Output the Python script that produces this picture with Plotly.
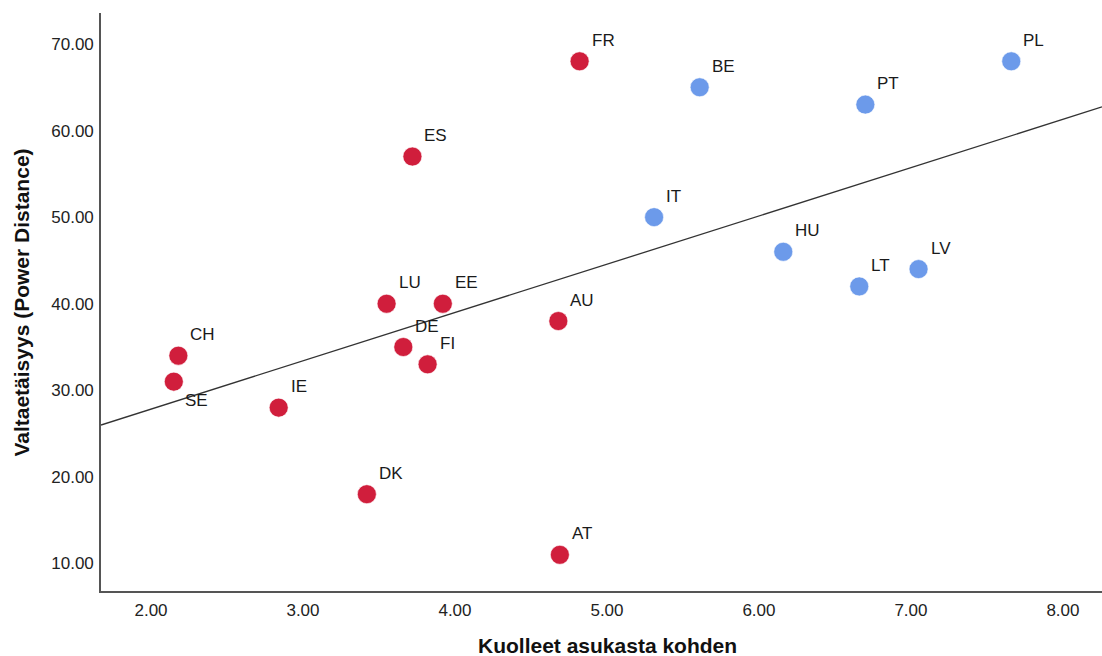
import numpy as np
import plotly.graph_objects as go

# Data
red_codes = ["CH", "SE", "IE", "DK", "LU", "DE", "ES", "FI", "EE", "AU", "AT", "FR"]
red_x = [2.18, 2.15, 2.84, 3.42, 3.55, 3.66, 3.72, 3.82, 3.92, 4.68, 4.69, 4.82]
red_y = [34, 31, 28, 18, 40, 35, 57, 33, 40, 38, 11, 68]

blue_codes = ["IT", "BE", "HU", "LT", "PT", "LV", "PL"]
blue_x = [5.31, 5.61, 6.16, 6.66, 6.70, 7.05, 7.66]
blue_y = [50, 65, 46, 42, 63, 44, 68]

x_ticks = [2, 3, 4, 5, 6, 7, 8]
y_ticks = [10, 20, 30, 40, 50, 60, 70]

x_title = "Kuolleet asukasta kohden"
y_title = "Valtaetäisyys (Power Distance)"

RED = "#D01E3C"
BLUE = "#6C9AEA"
FONT = "Liberation Sans, Arial, Helvetica, sans-serif"

x_range = [1.671, 8.257]
y_range = [6.82, 73.58]

all_x = np.array(red_x + blue_x)
all_y = np.array(red_y + blue_y)
slope, intercept = np.polyfit(all_x, all_y, 1)
line_x = np.array(x_range)
line_y = intercept + slope * line_x

fig = go.Figure()
fig.add_trace(go.Scatter(x=line_x, y=line_y, mode="lines",
                         line=dict(color="#333333", width=1.3),
                         hoverinfo="skip", showlegend=False))
fig.add_trace(go.Scatter(x=red_x, y=red_y, mode="markers",
                         marker=dict(size=19, color=RED, line=dict(color="white", width=0.6)),
                         text=red_codes, showlegend=False, cliponaxis=False))
fig.add_trace(go.Scatter(x=blue_x, y=blue_y, mode="markers",
                         marker=dict(size=19, color=BLUE, line=dict(color="white", width=0.6)),
                         text=blue_codes, showlegend=False, cliponaxis=False))

below = {"SE"}
for codes, xs, ys in [(red_codes, red_x, red_y), (blue_codes, blue_x, blue_y)]:
    for c, xv, yv in zip(codes, xs, ys):
        fig.add_annotation(x=xv, y=yv, text=c, showarrow=False,
                           xanchor="left", yanchor="middle",
                           xshift=9 if c in below else 10,
                           yshift=-19 if c in below else 21,
                           font=dict(family=FONT, size=17, color="#1a1a1a"))

fig.add_annotation(xref="paper", yref="paper", x=0.506, y=-0.095,
                   text="<b>" + x_title + "</b>", showarrow=False,
                   xanchor="center", yanchor="middle",
                   font=dict(family=FONT, size=21, color="#111111"))
fig.add_annotation(xref="paper", yref="paper", x=-0.0789, y=0.499,
                   text="<b>" + y_title + "</b>", showarrow=False, textangle=-90,
                   xanchor="center", yanchor="middle",
                   font=dict(family=FONT, size=21, color="#111111"))

fig.update_layout(
    width=1102, height=656,
    margin=dict(l=101, r=0, t=13, b=65),
    paper_bgcolor="white", plot_bgcolor="white",
    font=dict(family=FONT, size=17, color="#222222"),
    xaxis=dict(range=x_range, tickvals=x_ticks,
               ticktext=[f"{v:.2f}" for v in x_ticks],
               showgrid=False, zeroline=False, showline=True,
               linecolor="#555555", linewidth=1.6, ticks="",
               ticklabelstandoff=3,
               tickfont=dict(family=FONT, size=17, color="#222222")),
    yaxis=dict(range=y_range, tickvals=y_ticks,
               ticktext=[f"{v:.2f}" for v in y_ticks],
               showgrid=False, zeroline=False, showline=True,
               linecolor="#555555", linewidth=1.6, ticks="",
               ticklabelstandoff=2,
               tickfont=dict(family=FONT, size=17, color="#222222")),
)

fig.write_html("out.html")
